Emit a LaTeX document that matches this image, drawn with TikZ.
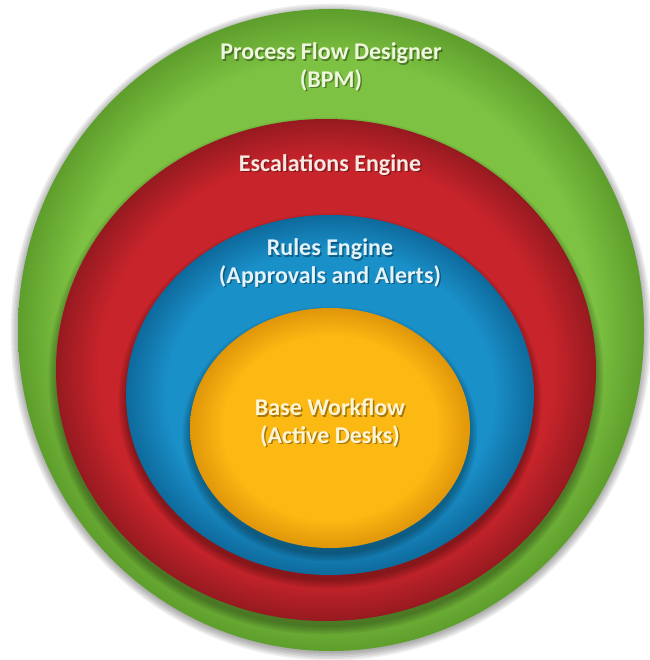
\documentclass[tikz,border=0pt]{standalone}
\usepackage{fontspec}
\setmainfont{Carlito}
\definecolor{gbase}{HTML}{7DC242}
\definecolor{gdark}{HTML}{5E9E2C}
\definecolor{rbase}{HTML}{C8242B}
\definecolor{rdark}{HTML}{961A20}
\definecolor{bbase}{HTML}{1A90C9}
\definecolor{bdark}{HTML}{0E6A9C}
\definecolor{ybase}{HTML}{FDB913}
\definecolor{ydark}{HTML}{E0960A}
\definecolor{gtext}{HTML}{EEF7DC}
\definecolor{rtext}{HTML}{FBE8E2}
\definecolor{btext}{HTML}{E2F3FB}
\definecolor{ytext}{HTML}{FFF4D6}
\pgfdeclareradialshading{gshade}{\pgfpoint{0bp}{0bp}}{color(0bp)=(gbase); color(21bp)=(gbase); color(25bp)=(gdark); color(50bp)=(gdark)}
\pgfdeclareradialshading{rshade}{\pgfpoint{0bp}{0bp}}{color(0bp)=(rbase); color(21bp)=(rbase); color(25bp)=(rdark); color(50bp)=(rdark)}
\pgfdeclareradialshading{bshade}{\pgfpoint{0bp}{0bp}}{color(0bp)=(bbase); color(20bp)=(bbase); color(25bp)=(bdark); color(50bp)=(bdark)}
\pgfdeclareradialshading{yshade}{\pgfpoint{0bp}{0bp}}{color(0bp)=(ybase); color(19bp)=(ybase); color(25bp)=(ydark); color(50bp)=(ydark)}
\tikzset{
  lbl/.style={align=center, font=\fontsize{24}{27.5}\selectfont\bfseries, inner sep=0pt},
  shd/.style={lbl, text=black, opacity=0.35},
}
\newcommand{\softshadow}[5]{% cx cy rx ry dy
  \foreach \k in {0,...,5}{
    \fill[black, opacity=0.06] (#1,#2+#5) ellipse [x radius=#3+\k*1.5, y radius=#4+\k*1.5];
  }
}
\begin{document}
\begin{tikzpicture}[x=1pt,y=-1pt]
\useasboundingbox (0,0) rectangle (649,660);
\fill[white] (0,0) rectangle (649,660);
% outer green
\softshadow{331}{330}{313}{321}{2}
\shade[shading=gshade] (331,330) ellipse [x radius=313, y radius=321];
% red
\softshadow{326}{370}{270}{251}{6}
\shade[shading=rshade] (326,370) ellipse [x radius=270, y radius=251];
% blue
\softshadow{330}{395}{204}{180}{6}
\shade[shading=bshade] (330,395) ellipse [x radius=204, y radius=180];
% yellow
\softshadow{330}{428}{140}{120}{6}
\shade[shading=yshade] (330,428) ellipse [x radius=140, y radius=120];
% labels
\node[shd] (pfds) at (332.5,68.5) {Process Flow Designer\\(BPM)};
\node[lbl, text=gtext] (pfd) at (331,67) {Process Flow Designer\\(BPM)};
\node[shd] (escs) at (331.5,166.5) {Escalations Engine};
\node[lbl, text=rtext] (esc) at (330,165) {Escalations Engine};
\node[shd] (ruls) at (331.5,264.5) {Rules Engine\\(Approvals and Alerts)};
\node[lbl, text=btext] (rul) at (330,263) {Rules Engine\\(Approvals and Alerts)};
\node[shd] (bases) at (331.5,424.5) {Base Workflow\\(Active Desks)};
\node[lbl, text=ytext] (base) at (330,423) {Base Workflow\\(Active Desks)};
\end{tikzpicture}
\end{document}
